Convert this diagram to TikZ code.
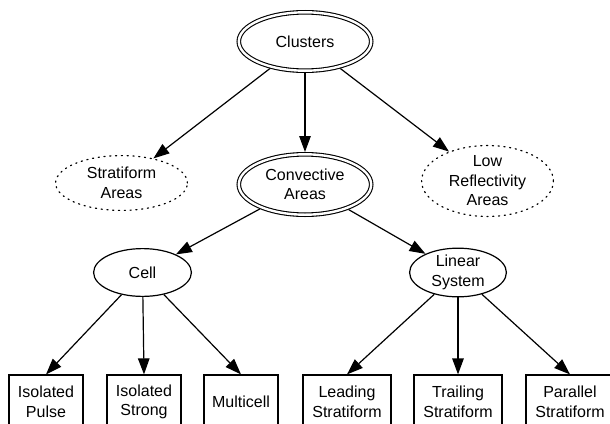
\documentclass[tikz,border=0pt]{standalone}
\usepackage{fontspec}
\setmainfont{Liberation Sans}
\usetikzlibrary{arrows.meta,shapes.geometric}
\begin{document}
\begin{tikzpicture}[x=1pt,y=-1pt,
  every node/.style={font=\fontsize{16}{19.5}\selectfont, align=center, inner sep=0pt},
  dblell/.style={ellipse, draw, line width=1.1pt, double, double distance=2.4pt, outer sep=2.3pt, minimum width=132.4pt},
  dotell/.style={ellipse, draw, line width=1.2pt, dash pattern=on 1.2pt off 4.6pt, line cap=round, minimum width=131.8pt},
  solell/.style={ellipse, draw, line width=1.2pt, minimum height=47.8pt},
  leaf/.style={rectangle, draw, line width=1.2pt, minimum height=54pt},
  arr/.style={line width=1.2pt, -{Triangle[length=16pt,width=11.5pt]}}
]
\path[fill=white] (0,0) rectangle (610,423);
\useasboundingbox (0,0) rectangle (610,423);
\clip (0,0) rectangle (610,423);

\node[dblell, minimum height=58.4pt] (clusters) at (305,41.5) {Clusters};
\node[dotell, minimum height=54.8pt] (stratiform) at (121.5,183) {Stratiform\\Areas};
\node[dblell, minimum height=60.4pt] (convective) at (305,184.5) {Convective\\Areas};
\node[dotell, minimum height=56.8pt] (low) at (487.5,181) {Low\\Reflectivity\\Areas};
\node[solell, minimum width=97.8pt] (cell) at (142.5,272.5) {Cell};
\node[solell, minimum width=96.8pt] (linear) at (458,272.5) {Linear\\System};

\node[leaf, minimum width=74pt] (ipulse) at (46,402) {Isolated\\Pulse};
\node[leaf, minimum width=74pt] (istrong) at (144,402) {Isolated\\Strong};
\node[leaf, minimum width=74pt] (multi) at (241,402) {Multicell};
\node[leaf, minimum width=88pt] (leading) at (347,402) {Leading\\Stratiform};
\node[leaf, minimum width=88pt] (trailing) at (458,402) {Trailing\\Stratiform};
\node[leaf, minimum width=88pt] (parallel) at (570,402) {Parallel\\Stratiform};

\draw[arr] (clusters) -- (stratiform);
\draw[arr] (clusters) -- (convective);
\draw[arr] (clusters) -- (low);
\draw[arr] (convective) -- (cell);
\draw[arr] (convective) -- (linear);
\draw[arr] (cell) -- (ipulse.north);
\draw[arr] (cell) -- (istrong.north);
\draw[arr] (cell) -- (multi.north);
\draw[arr] (linear) -- (leading.north);
\draw[arr] (linear) -- (trailing.north);
\draw[arr] (linear) -- (parallel.north);
\end{tikzpicture}
\end{document}
